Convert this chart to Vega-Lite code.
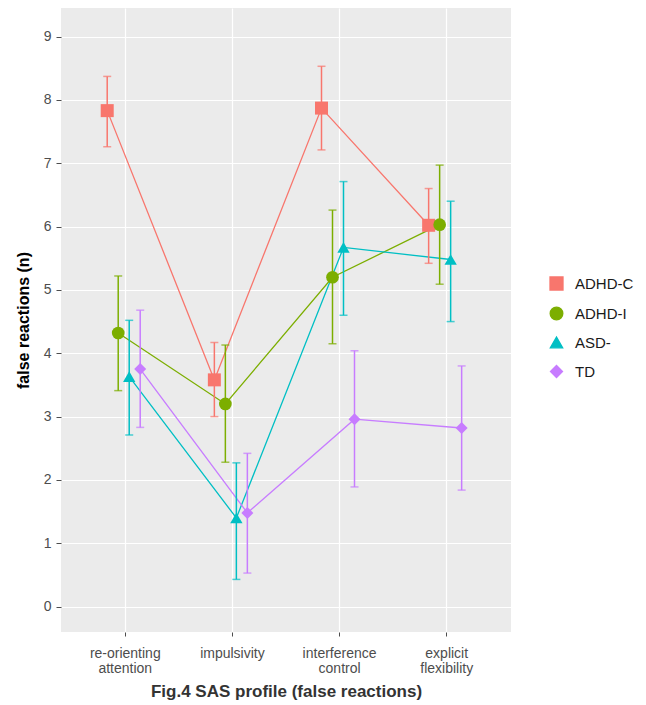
{
  "$schema": "https://vega.github.io/schema/vega-lite/v6.json",
  "width": 450,
  "height": 624,
  "autosize": {"type": "none"},
  "padding": {"left": 61, "top": 8, "right": 135, "bottom": 73},
  "background": "white",
  "config": {
    "view": {"fill": "#EBEBEB", "stroke": null},
    "font": "Liberation Sans",
    "axis": {
      "domain": false,
      "gridColor": "white",
      "labelFont": "Liberation Sans",
      "titleFont": "Liberation Sans",
      "labelColor": "#4D4D4D",
      "tickColor": "#4D4D4D",
      "tickSize": 5
    },
    "legend": {
      "labelFont": "Liberation Sans",
      "labelFontSize": 15,
      "labelColor": "#1a1a1a"
    }
  },
  "data": {
    "values": [
      {"task": "re-orienting attention", "group": "ADHD-C", "mean": 7.83, "lo": 7.26, "hi": 8.37},
      {"task": "impulsivity", "group": "ADHD-C", "mean": 3.58, "lo": 3.0, "hi": 4.17},
      {"task": "interference control", "group": "ADHD-C", "mean": 7.87, "lo": 7.21, "hi": 8.53},
      {"task": "explicit flexibility", "group": "ADHD-C", "mean": 6.02, "lo": 5.42, "hi": 6.6},
      {"task": "re-orienting attention", "group": "ADHD-I", "mean": 4.32, "lo": 3.41, "hi": 5.22},
      {"task": "impulsivity", "group": "ADHD-I", "mean": 3.2, "lo": 2.28, "hi": 4.13},
      {"task": "interference control", "group": "ADHD-I", "mean": 5.2, "lo": 4.15, "hi": 6.26},
      {"task": "explicit flexibility", "group": "ADHD-I", "mean": 6.03, "lo": 5.09, "hi": 6.97},
      {"task": "re-orienting attention", "group": "ASD-", "mean": 3.63, "lo": 2.71, "hi": 4.52},
      {"task": "impulsivity", "group": "ASD-", "mean": 1.4, "lo": 0.43, "hi": 2.27},
      {"task": "interference control", "group": "ASD-", "mean": 5.67, "lo": 4.6, "hi": 6.71},
      {"task": "explicit flexibility", "group": "ASD-", "mean": 5.48, "lo": 4.5, "hi": 6.4},
      {"task": "re-orienting attention", "group": "TD", "mean": 3.75, "lo": 2.83, "hi": 4.68},
      {"task": "impulsivity", "group": "TD", "mean": 1.48, "lo": 0.53, "hi": 2.42},
      {"task": "interference control", "group": "TD", "mean": 2.96, "lo": 1.89, "hi": 4.04},
      {"task": "explicit flexibility", "group": "TD", "mean": 2.82, "lo": 1.84, "hi": 3.8}
    ]
  },
  "encoding": {
    "x": {
      "field": "task",
      "type": "nominal",
      "sort": ["re-orienting attention", "impulsivity", "interference control", "explicit flexibility"],
      "scale": {"paddingInner": 0, "paddingOuter": 0.1},
      "axis": {
        "title": "Fig.4 SAS profile (false reactions)",
        "titleFontSize": 17,
        "titleFontWeight": "bold",
        "titleColor": "#333333",
        "titlePadding": 8,
        "labelAngle": 0,
        "labelFontSize": 14,
        "labelLineHeight": 15,
        "labelPadding": 10,
        "labelExpr": "split(datum.label, ' ')",
        "tickSize": 4,
        "bandPosition": 0.5,
        "grid": true,
        "gridWidth": 1.2
      }
    },
    "xOffset": {
      "field": "group",
      "type": "nominal",
      "scale": {"paddingInner": 0, "paddingOuter": 0, "range": [30, 74]}
    },
    "color": {
      "field": "group",
      "type": "nominal",
      "scale": {"domain": ["ADHD-C", "ADHD-I", "ASD-", "TD"], "range": ["#F8766D", "#7CAE00", "#00BFC4", "#C77CFF"]},
      "legend": {
        "title": null,
        "orient": "none",
        "legendX": 488,
        "legendY": 268,
        "rowPadding": 11,
        "symbolSize": 144,
        "labelOffset": 11,
        "encode": {
          "symbols": {
            "update": {
              "shape": {
                "condition": [
                  {"test": "datum.value === 'ADHD-C'", "value": "M-1.9,0H1.9M-1,-1H1V1H-1Z"},
                  {"test": "datum.value === 'ADHD-I'", "value": "M-1.9,0H1.9M-1,0A1,1 0 1,0 1,0A1,1 0 1,0 -1,0Z"},
                  {"test": "datum.value === 'ASD-'", "value": "M-1.9,0.2H1.9M0,-1.1L1.3,0.9H-1.3Z"}
                ],
                "value": "M-1.9,0H1.9M0,-1.1L1.1,0L0,1.1L-1.1,0Z"
              },
              "stroke": {
                "condition": [
                  {"test": "datum.value === 'ADHD-C'", "value": "#F8766D"},
                  {"test": "datum.value === 'ADHD-I'", "value": "#7CAE00"},
                  {"test": "datum.value === 'ASD-'", "value": "#00BFC4"}
                ],
                "value": "#C77CFF"
              },
              "strokeWidth": {"value": 1.3},
              "opacity": {"value": 1}
            }
          }
        }
      }
    }
  },
  "layer": [
    {
      "mark": {"type": "line", "strokeWidth": 1.3},
      "encoding": {
        "y": {
          "field": "mean",
          "type": "quantitative",
          "scale": {"domain": [-0.4, 9.45], "nice": false, "zero": false},
          "axis": {
            "title": "false reactions (n)",
            "titleFontSize": 16,
            "titleFontWeight": "bold",
            "titleColor": "#000000",
            "titlePadding": 12,
            "labelFontSize": 14,
            "labelPadding": 5,
            "values": [0, 0.5, 1, 1.5, 2, 2.5, 3, 3.5, 4, 4.5, 5, 5.5, 6, 6.5, 7, 7.5, 8, 8.5, 9],
            "labelExpr": "datum.value % 1 === 0 ? format(datum.value, 'd') : ''",
            "tickOpacity": {"condition": {"test": "datum.value % 1 !== 0", "value": 0}, "value": 1},
            "gridWidth": {"condition": {"test": "datum.value % 1 !== 0", "value": 0.6}, "value": 1.2},
            "grid": true
          }
        }
      }
    },
    {
      "mark": {"type": "rule", "strokeWidth": 1.5},
      "encoding": {
        "y": {"field": "lo", "type": "quantitative"},
        "y2": {"field": "hi"}
      }
    },
    {
      "mark": {"type": "tick", "size": 8, "thickness": 1.5},
      "encoding": {"y": {"field": "lo", "type": "quantitative"}}
    },
    {
      "mark": {"type": "tick", "size": 8, "thickness": 1.5},
      "encoding": {"y": {"field": "hi", "type": "quantitative"}}
    },
    {
      "mark": {"type": "point", "filled": true, "opacity": 1},
      "encoding": {
        "y": {"field": "mean", "type": "quantitative"},
        "shape": {
          "field": "group",
          "type": "nominal",
          "scale": {"domain": ["ADHD-C", "ADHD-I", "ASD-", "TD"], "range": ["square", "circle", "triangle-up", "diamond"]},
          "legend": null
        },
        "size": {
          "field": "group",
          "type": "nominal",
          "scale": {"domain": ["ADHD-C", "ADHD-I", "ASD-", "TD"], "range": [169, 144, 240, 160]},
          "legend": null
        }
      }
    }
  ]
}
